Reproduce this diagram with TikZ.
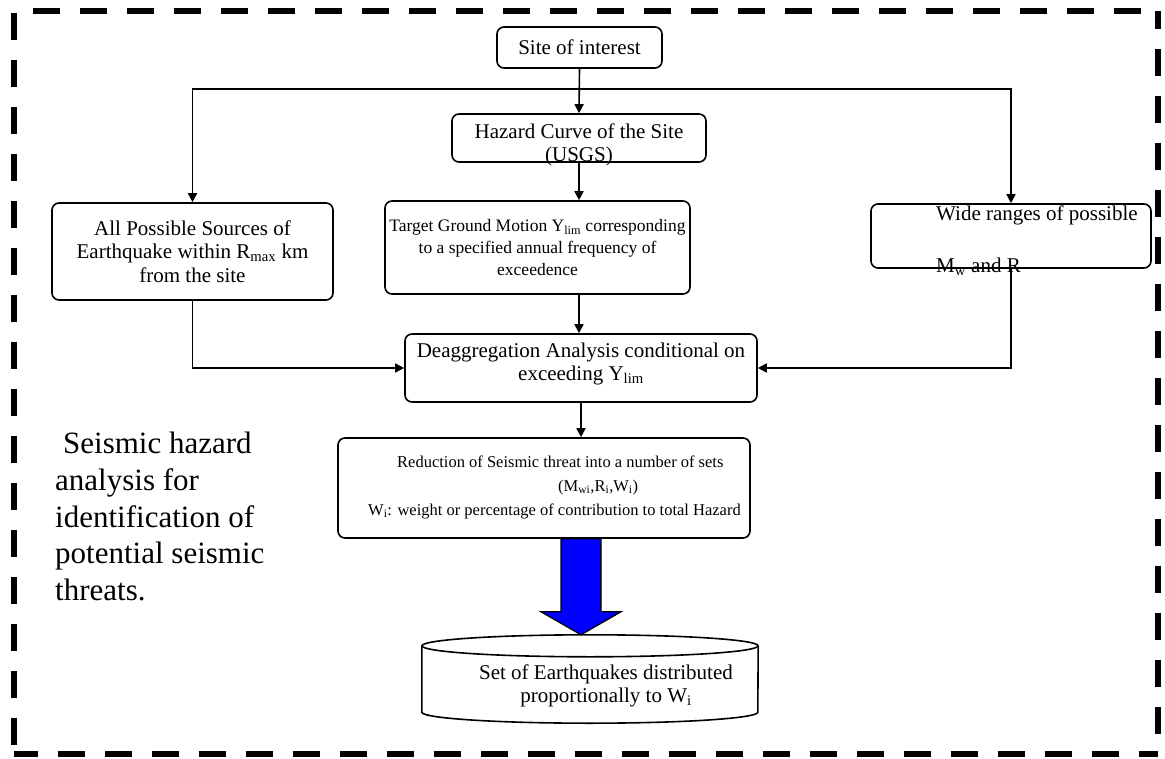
\documentclass[tikz,border=0pt]{standalone}
\usepackage{fontspec}
\setmainfont{Liberation Serif}
\definecolor{ThreatBlue}{HTML}{0000FF}
\usetikzlibrary{arrows.meta, positioning, calc}

\tikzset{
  box/.style={draw=black, line width=1.6pt, rounded corners=7pt, inner sep=0pt, align=center},
  boxline/.style={draw=black, line width=1.6pt},
  frame/.style={line width=6pt, dash pattern=on 27pt off 20pt},
  bodytext/.style={font=\fontsize{21}{23.5}\selectfont, align=center, inner sep=0pt},
  smalltext/.style={font=\fontsize{17.5}{22}\selectfont, align=center, inner sep=0pt},
  reducetext/.style={font=\fontsize{16.5}{24}\selectfont, inner sep=0pt},
  notetext/.style={font=\fontsize{31}{36.75}\selectfont, inner sep=0pt},
  link/.style={line width=1.6pt, -{Triangle[length=9pt, width=9pt]}},
  bigarrow/.style={fill=ThreatBlue, draw=black, line width=1.2pt, line join=miter}
}

\begin{document}
\begin{tikzpicture}[x=1pt, y=-1pt]
  \useasboundingbox (0,0) rectangle (1165,759);

  % Dashed frame
  \coordinate (nw) at (14,11);
  \coordinate (ne) at (1158,11);
  \coordinate (sw) at (14,754);
  \coordinate (se) at (1158,754);
  \draw[frame, dash phase=28pt] (nw) -- (ne);
  \draw[frame, dash phase=45pt] (nw) -- (sw);
  \draw[frame, dash phase=9pt] (ne) -- (se);
  \draw[frame, dash phase=3pt] (sw) -- (se);

  % Flow boxes
  \node[box, bodytext, minimum width=165pt, minimum height=41pt] (site) at (579.5,47.5) {Site of interest};

  \node[box, minimum width=254pt, minimum height=48pt] (hazard) at (579,138) {};
  \node[bodytext] (hazardtxt) at (579,145) {Hazard Curve of the Site\\(USGS)};

  \node[box, bodytext, minimum width=281pt, minimum height=97pt] (sources) at (192.5,251.5)
    {All Possible Sources of\\Earthquake within R\textsubscript{max} km\\from the site};

  \node[box, smalltext, minimum width=305pt, minimum height=93pt] (target) at (537.5,247.5)
    {Target Ground Motion Y\textsubscript{lim} corresponding\\to a specified annual frequency of\\exceedence};

  \node[box, minimum width=280pt, minimum height=64pt] (ranges) at (1011,236) {};
  \node[bodytext, align=left, anchor=north west] (rangestxt) at (936,205.7)
    {Wide ranges of possible\\[28.5pt]M\textsubscript{w} and R};

  \node[box, minimum width=352pt, minimum height=68pt] (deagg) at (581,368) {};
  \node[bodytext] (deaggtxt) at (581,364) {Deaggregation Analysis conditional on\\exceeding Y\textsubscript{lim}};

  \node[box, minimum width=412pt, minimum height=100pt] (reduce) at (544,488) {};
  \node[reducetext, align=left, anchor=west] (reducetxt) at (368,487)
    {\hspace*{29pt}Reduction of Seismic threat into a number of sets\\
     \hspace*{190pt}(M\textsubscript{wi},R\textsubscript{i},W\textsubscript{i})\\
     W\textsubscript{i}: weight or percentage of contribution to total Hazard};

  % Set of earthquakes (cylinder)
  \node[minimum width=336pt, minimum height=88pt, inner sep=0pt] (quakes) at (590,679) {};
  \draw[boxline] ($(quakes.north west)+(0,11)$) -- ($(quakes.south west)+(0,-11)$)
    arc[start angle=180, end angle=0, x radius=168, y radius=11] -- ($(quakes.north east)+(0,11)$);
  \draw[boxline] ($(quakes.north)+(0,11)$) ellipse[x radius=168, y radius=11];
  \node[bodytext] (quakestxt) at (606,686) {Set of Earthquakes distributed\\proportionally to W\textsubscript{i}};

  % Side note
  \node[notetext, align=left, anchor=north west] (note) at (55,432)
    {\hspace*{8pt}Seismic hazard\\analysis for\\identification of\\potential seismic\\threats.};

  % Connectors
  \coordinate (split) at (579,89);
  \draw[link] (site.south) -- (hazard.north);
  \draw[link] (split) -| (sources.north);
  \draw[link] (split) -| (ranges.north);
  \draw[link] (hazard.south) -- (hazard.south |- target.north);
  \draw[link] (hazard.south |- target.south) -- (hazard.south |- deagg.north);
  \draw[link] (sources.south) |- (deagg.west);
  \draw[link] (ranges.south) |- (deagg.east);
  \draw[link] (deagg.south) -- (deagg.south |- reduce.north);

  % Block arrow into the cylinder
  \coordinate (shaft) at (deagg.south |- reduce.south);
  \coordinate (tip) at (deagg.south |- quakes.north);
  \draw[bigarrow] ($(shaft)+(-20,0)$) -- ($(shaft)+(20,0)$) -- ($(tip)+(20,-23)$) -- ($(tip)+(40,-23)$)
    -- (tip) -- ($(tip)+(-40,-23)$) -- ($(tip)+(-20,-23)$) -- cycle;
\end{tikzpicture}
\end{document}
